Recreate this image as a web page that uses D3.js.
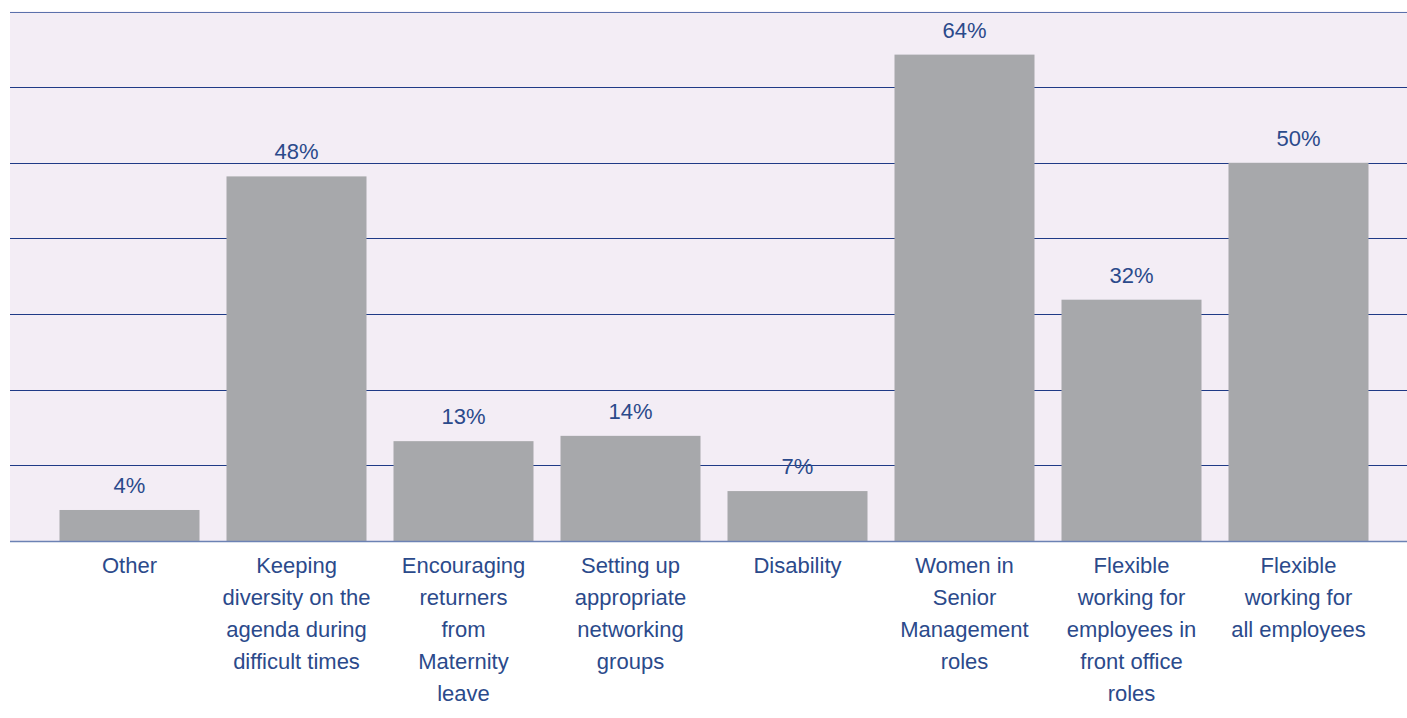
<!DOCTYPE html>
<html>
<head>
<meta charset="utf-8">
<script src="https://cdn.jsdelivr.net/npm/d3@7"></script>
<style>
  html, body { margin: 0; padding: 0; background: #ffffff; }
  svg { display: block; }
</style>
</head>
<body>
<svg id="chart" width="1407" height="718"></svg>
<script>
const categories = [
  ["Other"],
  ["Keeping", "diversity on the", "agenda during", "difficult times"],
  ["Encouraging", "returners", "from", "Maternity", "leave"],
  ["Setting up", "appropriate", "networking", "groups"],
  ["Disability"],
  ["Women in", "Senior", "Management", "roles"],
  ["Flexible", "working for", "employees in", "front office", "roles"],
  ["Flexible", "working for", "all employees"]
];
// bar heights; labels show the rounded percentages
const values = [4.1, 48.2, 13.2, 13.9, 6.6, 64.3, 31.9, 50];
const gridTicks = [10, 20, 30, 40, 50, 60, 70];

const svg = d3.select("#chart");
const plotLeft = 10, plotRight = 1407, plotTop = 11.5, plotBottom = 541;

const idx = categories.map((d, i) => i);
const x = d3.scaleBand()
  .domain(idx)
  .range([46, 1382])
  .paddingInner(27 / 167)
  .paddingOuter(27 / 167 / 2);
const y = d3.scaleLinear().domain([0, 70]).range([plotBottom, plotTop]);

const textColor = "#2b4a8b";
const font = "'Liberation Sans', Arial, sans-serif";
const fs = 22;

svg.append("rect")
  .attr("x", plotLeft).attr("y", plotTop)
  .attr("width", plotRight - plotLeft).attr("height", plotBottom - plotTop)
  .attr("fill", "#f3edf5");

// gridlines
svg.append("g").selectAll("line")
  .data(gridTicks)
  .join("line")
  .attr("x1", plotLeft).attr("x2", plotRight)
  .attr("y1", d => Math.round(y(d)) + 0.5).attr("y2", d => Math.round(y(d)) + 0.5)
  .attr("stroke", d => d === 70 ? "#5b70ab" : "#1f3a86")
  .attr("stroke-width", 1.2);

// bars
svg.append("g").selectAll("rect")
  .data(values)
  .join("rect")
  .attr("x", (d, i) => x(i))
  .attr("width", x.bandwidth())
  .attr("y", d => y(d))
  .attr("height", d => y(0) - y(d))
  .attr("fill", "#a7a8ab");

// baseline
svg.append("line")
  .attr("x1", plotLeft).attr("x2", plotRight)
  .attr("y1", plotBottom + 0.5).attr("y2", plotBottom + 0.5)
  .attr("stroke", "#6c82b4").attr("stroke-width", 1.5);

// value labels
svg.append("g").selectAll("text")
  .data(values)
  .join("text")
  .attr("x", (d, i) => x(i) + x.bandwidth() / 2)
  .attr("y", d => y(d) - 17)
  .attr("text-anchor", "middle")
  .attr("fill", textColor)
  .attr("font-family", font)
  .attr("font-size", fs)
  .text(d => Math.round(d) + "%");

// category labels
const lab = svg.append("g").selectAll("text")
  .data(categories)
  .join("text")
  .attr("x", (d, i) => x(i) + x.bandwidth() / 2)
  .attr("y", 572.5)
  .attr("text-anchor", "middle")
  .attr("fill", textColor)
  .attr("font-family", font)
  .attr("font-size", fs);
lab.each(function(lines, i) {
  d3.select(this).selectAll("tspan")
    .data(lines)
    .join("tspan")
    .attr("x", x(i) + x.bandwidth() / 2)
    .attr("y", (l, j) => 572.5 + j * 32)
    .text(l => l);
});
</script>
</body>
</html>
